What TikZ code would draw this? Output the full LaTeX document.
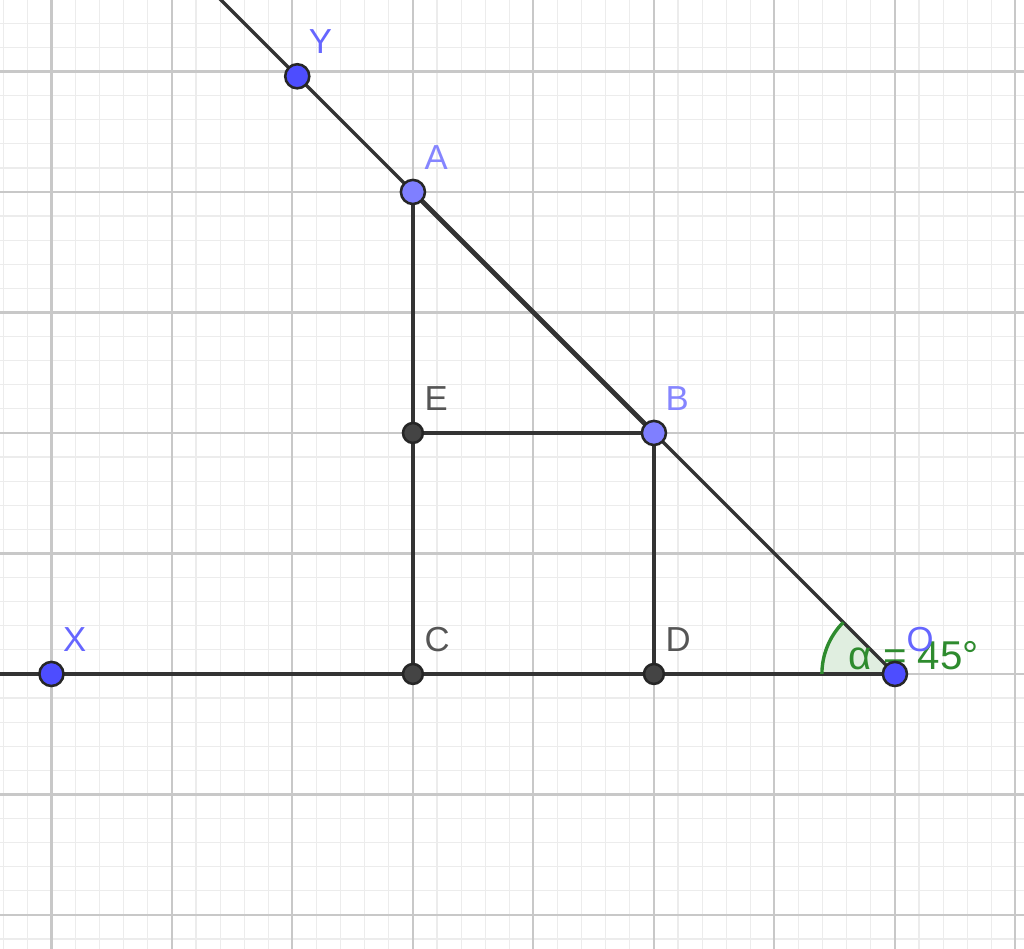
\documentclass[tikz,border=0pt]{standalone}
\usepackage{fontspec}
\setmainfont{Liberation Sans}
\usepackage{tikz}
\definecolor{gridmajor}{HTML}{C8C8C8}
\definecolor{gridminor}{HTML}{ECECEC}
\definecolor{freeblue}{HTML}{4D4DFF}
\definecolor{depblue}{HTML}{7F7FFF}
\definecolor{freetext}{HTML}{6666FF}
\definecolor{deptext}{HTML}{8585FF}
\definecolor{linegray}{HTML}{333333}
\definecolor{ptgray}{HTML}{444444}
\definecolor{graytext}{HTML}{555555}
\definecolor{anglegreen}{HTML}{2E8B2E}
\tikzset{
  geoline/.style={linegray,line width=0.8pt},
  freept/.style={circle,draw=black!85,fill=freeblue,line width=0.6pt,minimum size=0.2cm,inner sep=0},
  deppt/.style={freept,fill=depblue},
  graypt/.style={circle,draw=black!85,fill=ptgray,line width=0.6pt,minimum size=0.165cm,inner sep=0},
  ptlabel/.style={anchor=south west,inner sep=0,xshift=0.09cm,yshift=0.18cm,font=\fontsize{8.2}{10}\selectfont}
}

\begin{document}
\begin{tikzpicture}
\useasboundingbox (-7.427,-2.282) rectangle (1.071,5.593);
\clip (-7.427,-2.282) rectangle (1.071,5.593);
\fill[white] (-7.427,-2.282) rectangle (1.071,5.593);
\draw[step=0.2,gridminor,line width=0.3pt] (-7.6,-2.4) grid (1.2,5.8);
\draw[step=1,gridmajor,line width=0.5pt] (-7.6,-2.4) grid (1.2,5.8);

\coordinate (O) at (0,0);
\coordinate (X) at (-7,0);
\coordinate (Y) at (-4.96,4.96);
\coordinate (A) at (-4,4);
\coordinate (B) at (-2,2);
\coordinate (C) at (-4,0);
\coordinate (D) at (-2,0);
\coordinate (E) at (-4,2);
\coordinate (Xfar) at (-8,0);
\coordinate (Yfar) at (-6.5,6.5);

% angle at O
\fill[anglegreen!15] (O) -- ++(180:0.606) arc[start angle=180,end angle=135,radius=0.606] -- cycle;

% rays and segments
\draw[geoline] (O) -- (Xfar);
\draw[geoline] (O) -- (Yfar);
\draw[geoline,line width=1.1pt] (A) -- (B);
\draw[geoline] (A) -- (C);
\draw[geoline] (B) -- (D);
\draw[geoline] (E) -- (B);

\draw[anglegreen,line width=0.8pt] (O) ++(180:0.606) arc[start angle=180,end angle=135,radius=0.606];
\node[anchor=base west,inner sep=0,text=anglegreen,font=\fontsize{9.5}{11}\selectfont] (lalpha) at (-0.39,0.033) {α = 45°};

% points
\node[graypt] (pC) at (C) {};
\node[graypt] (pD) at (D) {};
\node[graypt] (pE) at (E) {};
\node[deppt] (pA) at (A) {};
\node[deppt] (pB) at (B) {};
\node[freept] (pX) at (X) {};
\node[freept] (pY) at (Y) {};
\node[freept] (pO) at (O) {};

% labels
\node[ptlabel,text=freetext] (lX) at (X) {X};
\node[ptlabel,text=freetext] (lY) at (Y) {Y};
\node[ptlabel,text=freetext] (lO) at (O) {O};
\node[ptlabel,text=deptext] (lA) at (A) {A};
\node[ptlabel,text=deptext] (lB) at (B) {B};
\node[ptlabel,text=graytext] (lC) at (C) {C};
\node[ptlabel,text=graytext] (lD) at (D) {D};
\node[ptlabel,text=graytext] (lE) at (E) {E};
\end{tikzpicture}
\end{document}
